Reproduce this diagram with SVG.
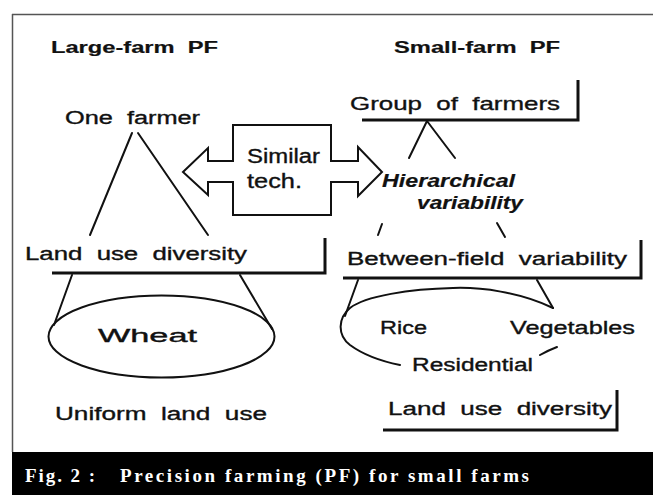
<svg xmlns="http://www.w3.org/2000/svg" width="653" height="495" viewBox="0 0 653 495">
<style>
.t{font-family:"Liberation Sans",Arial,sans-serif;font-size:18px;fill:#111;stroke:#111;stroke-width:0.35;white-space:pre}
.h{font-weight:bold;font-size:16px;stroke-width:0.2}
.hi{font-weight:bold;font-style:italic;font-size:18px;stroke-width:0.2}
.ln{stroke:#111;stroke-width:2;fill:none;stroke-linecap:round}
.bx{stroke:#111;stroke-width:3;fill:none}
.cap{font-family:"Liberation Serif","Times New Roman",serif;font-weight:bold;font-size:19px;fill:#fff;white-space:pre}
</style>
<rect x="0" y="0" width="653" height="495" fill="#fff"/>
<g id="frame">
<path d="M12,14.5 H653 M12.5,14 V452" stroke="#555" stroke-width="1.5" fill="none"/>
<rect x="12" y="452" width="641" height="43" fill="#000"/>
</g>
<g id="caption">
<text class="cap" x="25" y="482" textLength="70" lengthAdjust="spacing">Fig. 2 :</text>
<text class="cap" x="120" y="482" textLength="409" lengthAdjust="spacing">Precision farming (PF) for small farms</text>
</g>
<g id="heading-large"><text class="t h" x="51" y="53" textLength="167" lengthAdjust="spacingAndGlyphs">Large-farm  PF</text></g>
<g id="heading-small"><text class="t h" x="394" y="53" textLength="166" lengthAdjust="spacingAndGlyphs">Small-farm  PF</text></g>
<g id="one-farmer"><text class="t" x="65" y="124" textLength="135" lengthAdjust="spacingAndGlyphs">One  farmer</text></g>
<g id="land-use-left">
<text class="t" x="25" y="260" textLength="222" lengthAdjust="spacingAndGlyphs">Land  use  diversity</text>
<path class="bx" d="M52,273 H326 M325,238 V274.5"/>
</g>
<g id="wheat">
<ellipse cx="161.5" cy="336.5" rx="113" ry="41" class="ln"/>
<text class="t" x="98" y="342" textLength="99" lengthAdjust="spacingAndGlyphs">Wheat</text>
</g>
<g id="uniform"><text class="t" x="55" y="420" textLength="212" lengthAdjust="spacingAndGlyphs">Uniform  land  use</text></g>
<g id="similar-tech">
<polygon class="ln" fill="#fff" points="183,172 208,148 208,161 233,161 233,125 331,125 331,161 358,161 358,147 382,172 358,196 358,182 331,182 331,215 233,215 233,182 208,182 208,195"/>
<text class="t" style="font-size:20px" x="247" y="163" textLength="73" lengthAdjust="spacingAndGlyphs">Similar</text>
<text class="t" style="font-size:20px" x="247" y="188" textLength="55" lengthAdjust="spacingAndGlyphs">tech.</text>
</g>
<g id="group-farmers">
<text class="t" style="font-size:19px" x="350" y="110" textLength="210" lengthAdjust="spacingAndGlyphs">Group  of  farmers</text>
<path class="bx" d="M362,120 H579.5 M578,80 V121.5"/>
</g>
<g id="hierarchical">
<text class="t hi" x="382" y="187" textLength="133" lengthAdjust="spacingAndGlyphs">Hierarchical</text>
<text class="t hi" x="417" y="209" textLength="106" lengthAdjust="spacingAndGlyphs">variability</text>
</g>
<g id="between-field">
<text class="t" x="347" y="265" textLength="280" lengthAdjust="spacingAndGlyphs">Between-field  variability</text>
<path class="bx" d="M343,278 H642.5 M641,240 V279.5"/>
</g>
<g id="fields">
<path class="ln" d="M553,308 C520,292 480,287 453,288 C410,289 365,296 350,308 C338,318 337,335 350,345 C365,356 385,362 400,365"/>
<path class="ln" d="M540,355 Q549,350 557,347"/>
<text class="t" x="380" y="334" textLength="47" lengthAdjust="spacingAndGlyphs">Rice</text>
<text class="t" x="510" y="334" textLength="125" lengthAdjust="spacingAndGlyphs">Vegetables</text>
<text class="t" x="412" y="371" textLength="121" lengthAdjust="spacingAndGlyphs">Residential</text>
</g>
<g id="land-use-right">
<text class="t" x="388" y="415" textLength="224" lengthAdjust="spacingAndGlyphs">Land  use  diversity</text>
<path class="bx" d="M383,430 H618.5 M617,390 V431.5"/>
</g>
<g id="connectors">
<path class="ln" d="M132,133 L90,235 M138,133 L208,235"/>
<path class="ln" d="M72,275 L54,325 M240,275 L272,329"/>
<path class="ln" d="M427,121 L409,158 M427,121 L455,158"/>
<path class="ln" d="M382,224 L378,235 M497,223 L505,237"/>
<path class="ln" d="M358,280 L345,316 M537,280 L553,308"/>
</g>
</svg>
